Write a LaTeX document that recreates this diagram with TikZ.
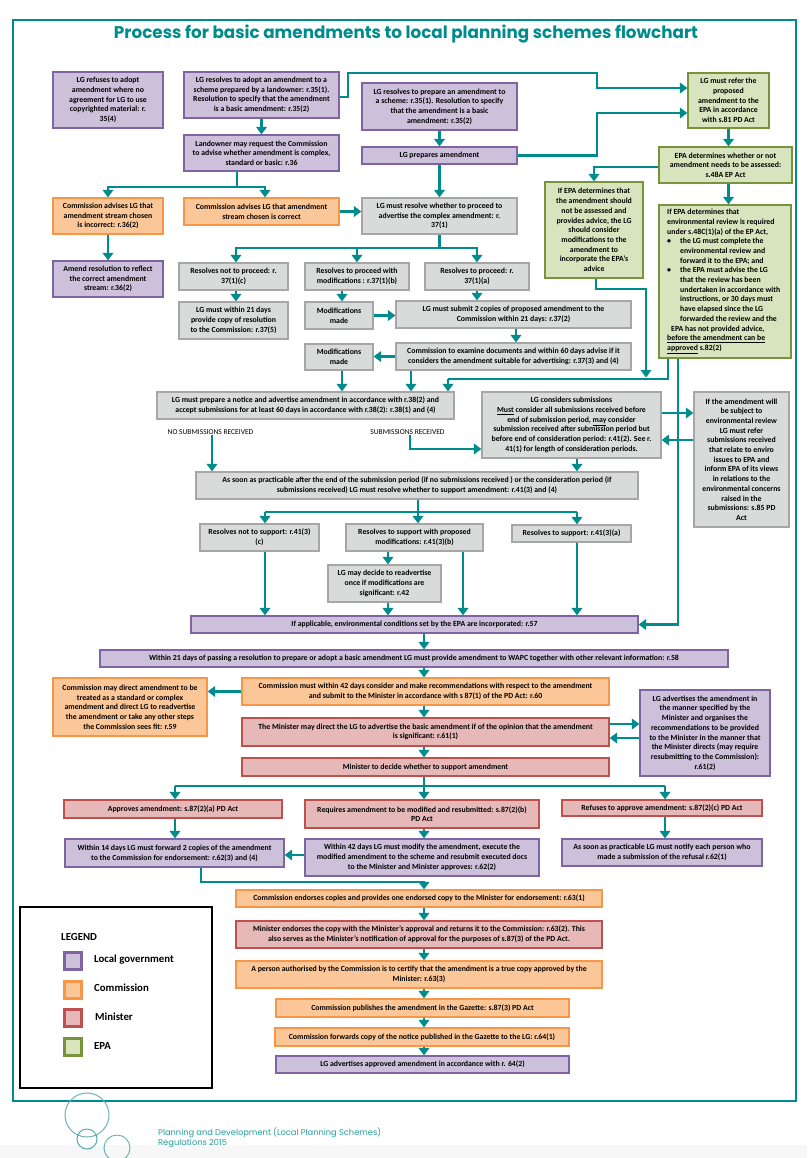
\documentclass[tikz,border=0pt]{standalone}
\usepackage{fontspec}
\setmainfont{Carlito}
\newfontfamily\titlefont{Poppins}
\usetikzlibrary{arrows.meta}
\definecolor{tl}{RGB}{0,140,140}
\definecolor{tlL}{RGB}{110,180,180}
\definecolor{lgF}{RGB}{204,192,218}\definecolor{lgD}{RGB}{128,100,162}
\definecolor{cmF}{RGB}{251,199,152}\definecolor{cmD}{RGB}{247,150,70}
\definecolor{mnF}{RGB}{230,185,184}\definecolor{mnD}{RGB}{192,80,77}
\definecolor{epF}{RGB}{215,228,189}\definecolor{epD}{RGB}{119,147,60}
\definecolor{gyF}{RGB}{217,218,218}\definecolor{gyD}{RGB}{166,166,166}
\newcommand\mybox[8][]{%
  \pgfmathsetmacro\bw{#6-#4}\pgfmathsetmacro\bh{#7-#5}%
  \pgfmathsetmacro\bcx{(#4+#6)/2}\pgfmathsetmacro\bcy{(#5+#7)/2}%
  \node[#3, minimum width=\bw pt, minimum height=\bh pt, #1] (#2) at (\bcx,\bcy) {#8};}
\begin{document}
\begin{tikzpicture}[x=1pt,y=-1pt,
  plaintxt/.style={inner sep=0pt, font=\fontsize{7.8}{9.7}\selectfont\bfseries, text=black},
  basebox/.style={draw, line width=1.2pt, inner sep=1pt, align=center, font=\fontsize{7.8}{9.7}\selectfont\bfseries, text=black},
  boxLG/.style={basebox, fill=lgF, draw=lgD},
  boxCM/.style={basebox, fill=cmF, draw=cmD},
  boxMN/.style={basebox, fill=mnF, draw=mnD},
  boxEP/.style={basebox, fill=epF, draw=epD},
  boxGY/.style={basebox, fill=gyF, draw=gyD},
  conn/.style={draw=tl, line width=2.8pt},
  arr/.style={draw=tl, line width=2.8pt, -{Triangle[width=10.5pt,length=7.5pt]}},
  swatch/.style={line width=2.6pt, minimum width=17pt, minimum height=17pt, inner sep=0pt},
  legtxt/.style={anchor=west, inner sep=0pt, font=\fontsize{10.8}{12}\selectfont\bfseries},
  sublabel/.style={inner sep=0pt, font=\fontsize{7.5}{8}\selectfont, text=black}
]
\useasboundingbox (0,0) rectangle (807,1158);
\fill[white] (0,0) rectangle (807,1158);
\fill[black!3] (0,1145) rectangle (807,1158);
\draw[tl, line width=1.2pt] (13,20) rectangle (796,1101);
\node[anchor=base, inner sep=0pt, text=tl] (title) at (406,39) {\resizebox{584pt}{13.6pt}{\titlefont\bfseries Process for basic amendments to local planning schemes flowchart}};

% ---------- top ----------
\mybox{refuse}{boxLG}{53}{72}{163}{128}{LG refuses to adopt\\amendment where no\\agreement for LG to use\\copyrighted material: r.\\35(4)}
\mybox{adopt}{boxLG}{184}{72}{339}{118}{LG resolves to adopt an amendment to a\\scheme prepared by a landowner: r.35(1).\\Resolution to specify that the amendment\\is a basic amendment: r.35(2)}
\mybox{prepare}{boxLG}{362}{83}{517}{130}{LG resolves to prepare an amendment to\\a scheme: r.35(1). Resolution to specify\\that the amendment is a basic\\amendment: r.35(2)}
\mybox{lgprep}{boxLG}{362}{147}{517}{164}{LG prepares amendment}
\mybox{refer}{boxEP}{688}{73}{769}{128}{LG must refer the\\proposed\\amendment to the\\EPA in accordance\\with s.81 PD Act}
\mybox{epadet}{boxEP}{659}{147}{792}{183}{EPA determines whether or not\\amendment needs to be assessed:\\s.48A EP Act}
\mybox{epanot}{boxEP}{545}{182}{643}{278}{If EPA determines that\\the amendment should\\not be assessed and\\provides advice, the LG\\should consider\\modifications to the\\amendment to\\incorporate the EPA’s\\advice}
\mybox{epareq}{boxEP}{659}{205}{791}{358}{}
\node[plaintxt, anchor=north west, align=left] (epareqT) at (667,209) {If EPA determines  that\\environmental review is required\\under s.48C(1)(a) of the EP Act,\\\makebox[13pt][l]{\textbullet}the LG must complete the\\\hspace*{13pt}environmental review and\\\hspace*{13pt}forward it to the EPA; and\\\makebox[13pt][l]{\textbullet}the EPA must advise the LG\\\hspace*{13pt}that the review has been\\\hspace*{13pt}undertaken in accordance with\\\hspace*{13pt}instructions, or 30 days must\\\hspace*{13pt}have elapsed since the LG\\\hspace*{13pt}forwarded the review and the\\\hspace*{4pt}EPA has not provided  advice,\\\underline{before the amendment can be}\\\underline{approved} s.82(2)};
\mybox{landowner}{boxLG}{184}{135}{339}{171}{Landowner may request the Commission\\to advise whether amendment is complex,\\standard or basic: r.36}
\mybox{incorrect}{boxCM}{53}{198}{163}{234}{Commission advises  LG that\\amendment stream chosen\\is incorrect: r.36(2)}
\mybox{correct}{boxCM}{184}{198}{339}{225}{Commission advises  LG that amendment\\stream chosen is correct}
\mybox{resolve}{boxGY}{362}{198}{517}{234}{LG must resolve whether to proceed  to\\advertise  the complex amendment: r.\\37(1)}
\mybox{amendres}{boxLG}{53}{261}{163}{297}{Amend resolution to reflect\\the correct amendment\\stream: r.36(2)}
\mybox{notproc}{boxGY}{179}{263}{288}{290}{Resolves not to  proceed: r.\\37(1)(c)}
\mybox{procmod}{boxGY}{305}{263}{409}{290}{Resolves  to proceed with\\modifications : r.37(1)(b)}
\mybox{proc}{boxGY}{425}{263}{529}{290}{Resolves to proceed: r.\\37(1)(a)}
\mybox{lgtw}{boxGY}{179}{302}{288}{339}{LG must within 21 days\\provide copy of resolution\\to the Commission: r.37(5)}
\mybox{modA}{boxGY}{305}{302}{373}{329}{Modifications\\made}
\mybox{submit}{boxGY}{396}{301}{631}{328}{LG must submit 2 copies of proposed amendment to the\\Commission within 21 days: r.37(2)}
\mybox{modB}{boxGY}{305}{344}{373}{370}{Modifications\\made}
\mybox{examine}{boxGY}{396}{343}{631}{370}{Commission to examine documents and within 60 days advise if it\\considers the amendment suitable for advertising: r.37(3) and (4)}
\mybox{notice}{boxGY}{157}{392}{454}{419}{LG must prepare a notice  and advertise amendment  in accordance with r.38(2) and\\accept submissions for at least 60 days in accordance with r.38(2): r.38(1) and (4)}
\mybox{consider}{boxGY}{482}{392}{661}{458}{LG considers submissions\\\underline{Must} consider all submissions received before\\end of submission period, \underline{may} consider\\submission received after submission period but\\before end of consideration period: r.41(2). See r.\\41(1) for length of consideration periods.}
\mybox{envrev}{boxGY}{694}{392}{789}{527}{If the amendment will\\be subject to\\environmental review\\LG must refer\\submissions received\\that relate to enviro\\issues to EPA and\\inform EPA of its views\\in relations to the\\environmental concerns\\raised in the\\submissions: s.85 PD\\Act}
\node[sublabel] (nosub) at (210.5,432) {NO SUBMISSIONS RECEIVED};
\node[sublabel] (yessub) at (407.5,432) {SUBMISSIONS RECEIVED};
\mybox{asap}{boxGY}{196}{472}{638}{499}{As soon as practicable after the end of the submission period  (if no submissions received ) or the consideration period (if\\submissions received)  LG must resolve whether to support amendment: r.41(3) and (4)}
\mybox{notsupp}{boxGY}{200}{524}{319}{551}{Resolves not to support: r.41(3)\\(c)}
\mybox{suppmod}{boxGY}{346}{524}{483}{551}{Resolves to support with proposed\\modifications: r.41(3)(b)}
\mybox{supp}{boxGY}{512}{525}{631}{542}{Resolves to support: r.41(3)(a)}
\mybox{readv}{boxGY}{328}{565}{441}{602}{LG may decide to readvertise\\once if  modifications are\\significant: r.42}
\mybox{envcond}{boxLG}{191}{616}{638}{633}{If applicable,  environmental conditions set by the EPA are incorporated: r.57}
\mybox{wapc}{boxLG}{100}{650}{728}{667}{Within 21 days of passing a resolution to prepare or adopt a basic amendment LG must provide amendment to WAPC together with other relevant information: r.58}
\mybox{commdir}{boxCM}{53}{678}{207}{736}{Commission may direct amendment to be\\treated as  a standard or complex\\amendment and direct LG to readvertise\\the amendment or take any other steps\\the Commission sees fit: r.59}
\mybox{commrec}{boxCM}{242}{678}{609}{705}{Commission must  within 42 days consider and make recommendations  with respect to the amendment\\and submit to the Minister in accordance with s 87(1) of the PD Act: r.60}
\mybox{mindir}{boxMN}{242}{718}{609}{746}{The Minister may direct the LG to advertise  the basic amendment  if of  the opinion that the amendment\\is significant: r.61(1)}
\mybox{lgadv}{boxLG}{640}{690}{770}{776}{LG advertises  the amendment in\\the  manner specified by the\\Minister  and organises the\\recommendations to be provided\\to the Minister in the manner that\\the Minister directs (may require\\resubmitting to the Commission):\\r.61(2)}
\mybox{mindec}{boxMN}{242}{758}{609}{776}{Minister to decide whether to support amendment}
\mybox{approve}{boxMN}{64}{800}{282}{818}{Approves amendment: s.87(2)(a) PD Act}
\mybox{modres}{boxMN}{305}{800}{539}{828}{Requires amendment to be modified and resubmitted: s.87(2)(b)\\PD Act}
\mybox{refapp}{boxMN}{562}{800}{762}{816}{Refuses to approve amendment: s.87(2)(c) PD Act}
\mybox{fwdtwo}{boxLG}{65}{839}{284}{867}{Within 14 days  LG must forward  2 copies of the amendment\\to the Commission for endorsement: r.62(3) and (4)}
\mybox{modify}{boxLG}{305}{839}{539}{876}{Within 42 days LG must modify the  amendment, execute the\\modified amendment to the scheme  and resubmit executed docs\\to the  Minister and Minister approves: r.62(2)}
\mybox{notify}{boxLG}{562}{839}{762}{866}{As soon as practicable LG must notify each person who\\made  a submission of the refusal r.62(1)}
\mybox{endorse}{boxCM}{236}{890}{602}{907}{Commission endorses copies and provides one endorsed copy to the Minister for endorsement: r.63(1)}
\mybox{minend}{boxMN}{236}{921}{602}{948}{Minister endorses the copy  with the Minister’s approval and returns it to the Commission: r.63(2). This\\also serves as the Minister’s notification of approval for the purposes of s.87(3) of the PD Act.}
\mybox{certify}{boxCM}{236}{961}{602}{988}{A person authorised by the Commission is to certify that the amendment is a true copy approved by the\\Minister: r.63(3)}
\mybox{gazette}{boxCM}{276}{999}{569}{1017}{Commission publishes the amendment in the Gazette: s.87(3) PD Act}
\mybox{fwdcopy}{boxCM}{275}{1028}{569}{1046}{Commission forwards copy of the notice published in the Gazette to the LG: r.64(1)}
\mybox{final}{boxLG}{276}{1056}{569}{1073}{LG advertises approved amendment in accordance with r. 64(2)}

% ---------- connectors ----------
\draw[arr] (adopt.south) -- (landowner.north);
\draw[arr] (adopt.east |- 0,97) -- (348,97) -- (348,73) -- (597,73) -- (597,88) -- (refer.west |- 0,88);
\draw[arr] (prepare.south) -- (lgprep.north);
\draw[arr] (lgprep.east) -- (597,155.5) -- (597,113) -- (refer.west |- 0,113);
\draw[arr] (lgprep.south) -- (resolve.north);
\draw[arr] (refer.south) -- (refer.south |- epadet.north);
\draw[arr] (epadet.west |- 0,167) -| (epanot.north);
\draw[arr] (refer.south |- epadet.south) -- (refer.south |- epareq.north);
\draw[conn] (landowner.south -| 237,0) -- (237,187);
\draw[arr] (237,187) -| (incorrect.north);
\draw[arr] (237,187) -| (correct.north -| 265,0);
\draw[arr] (correct.east) -- (resolve.west |- correct.east);
\draw[arr] (incorrect.south) -- (amendres.north);
\draw[conn] (resolve.south) -- (439.5,248);
\draw[arr] (439.5,248) -| (notproc.north -| 236,0);
\draw[arr] (439.5,248) -| (proc.north);
\draw[arr] (procmod.north |- 0,248) -- (procmod.north);
\draw[arr] (notproc.south -| 236,0) -- (lgtw.north -| 236,0);
\draw[arr] (procmod.south -| 342,0) -- (modA.north -| 342,0);
\draw[arr] (modA.east) -- (submit.west |- modA.east);
\draw[arr] (proc.south) -- (proc.south |- submit.north);
\draw[arr] (submit.south -| 516,0) -- (examine.north -| 516,0);
\draw[arr] (examine.west) -- (modB.east |- examine.west);
\draw[arr] (modB.south -| 342,0) -- (notice.north -| 342,0);
\draw[arr] (examine.south -| 411,0) -- (notice.north -| 411,0);
\coordinate (join) at (646,377.5);
\draw[conn] (epareq.south -| 668,0) -- (668,379) -- (448,379);
\draw[arr] (448,379) -- (notice.north -| 448,0);
\draw[arr] (epanot.south -| 596,0) -- (596,289) -- (646,289) -- (join);
\draw[arr] (epareq.south -| 678,0) -- (678,624.5) -- (envcond.east);
\draw[arr] (consider.east |- 0,413) -- (envrev.west |- 0,413);
\draw[arr] (envrev.west |- 0,440) -- (consider.east |- 0,440);
\draw[arr] (yessub.south -| 410,0) -- (410,449) -- (consider.west |- 0,449);
\draw[arr] (nosub.south -| 212,0) -- (asap.north -| 212,0);
\draw[arr] (consider.south -| 577,0) -- (asap.north -| 577,0);
\draw[arr] (asap.south -| 418,0) -- (suppmod.north -| 418,0);
\draw[conn] (265,512) -- (577,512);
\draw[arr] (265,512) -- (notsupp.north -| 265,0);
\draw[arr] (577,512) -- (supp.north -| 577,0);
\draw[arr] (notsupp.south -| 265,0) -- (envcond.north -| 265,0);
\draw[arr] (suppmod.south -| 388,0) -- (readv.north -| 388,0);
\draw[arr] (suppmod.south -| 463,0) -- (envcond.north -| 463,0);
\draw[arr] (readv.south -| 388,0) -- (envcond.north -| 388,0);
\draw[arr] (supp.south -| 577,0) -- (envcond.north -| 577,0);
\draw[arr] (envcond.south -| 424,0) -- (wapc.north -| 424,0);
\draw[arr] (wapc.south -| 424,0) -- (commrec.north -| 424,0);
\draw[arr] (commrec.west) -- (commdir.east |- commrec.west);
\draw[arr] (commrec.south -| 424,0) -- (mindir.north -| 424,0);
\draw[arr] (mindir.east |- 0,724) -- (lgadv.west |- 0,724);
\draw[arr] (lgadv.west |- 0,738) -- (mindir.east |- 0,738);
\draw[arr] (mindir.south -| 424,0) -- (mindec.north -| 424,0);
\draw[conn] (mindec.south -| 424,0) -- (424,786);
\draw[conn] (175,786) -- (665,786);
\draw[arr] (175,786) -- (approve.north -| 175,0);
\draw[arr] (424,786) -- (modres.north -| 424,0);
\draw[arr] (665,786) -- (refapp.north -| 665,0);
\draw[arr] (approve.south -| 175,0) -- (fwdtwo.north -| 175,0);
\draw[arr] (modres.south -| 424,0) -- (modify.north -| 424,0);
\draw[arr] (refapp.south -| 665,0) -- (notify.north -| 665,0);
\draw[arr] (modify.west |- 0,855) -- (fwdtwo.east |- 0,855);
\draw[arr] (fwdtwo.south -| 201,0) -- (201,882) -- (424,882) -- (endorse.north -| 424,0);
\draw[arr] (endorse.south -| 424,0) -- (minend.north -| 424,0);
\draw[arr] (minend.south -| 424,0) -- (certify.north -| 424,0);
\draw[arr] (certify.south -| 424,0) -- (gazette.north -| 424,0);
\draw[arr] (gazette.south -| 424,0) -- (fwdcopy.north -| 424,0);
\draw[arr] (fwdcopy.south -| 424,0) -- (final.north -| 424,0);

% ---------- legend ----------
\draw[black, line width=1.1pt] (20,907) rectangle (212,1088);
\node[legtxt] (legT) at (61,937) {LEGEND};
\node[swatch, draw=lgD, fill=lgF] (s1) at (73,961) {};
\node[swatch, draw=cmD, fill=cmF] (s2) at (73,990) {};
\node[swatch, draw=mnD, fill=mnF] (s3) at (73,1018) {};
\node[swatch, draw=epD, fill=epF] (s4) at (73,1047) {};
\node[legtxt] (l1) at (94,960) {Local government};
\node[legtxt] (l2) at (94,988) {Commission};
\node[legtxt] (l3) at (95,1017) {Minister};
\node[legtxt] (l4) at (94,1046) {EPA};

% ---------- footer ----------
\draw[tlL, line width=1pt] (87,1115) circle[radius=22pt];
\draw[tl!70, line width=1pt] (87,1139) circle[radius=10pt];
\draw[tlL, line width=1pt] (117,1148) circle[radius=13pt];
\node[anchor=north west, inner sep=0pt, align=left, text=tl!85, font=\titlefont\fontsize{8.3}{10}\selectfont] (foot) at (158,1128) {Planning and Development (Local Planning Schemes)\\Regulations 2015};
\end{tikzpicture}
\end{document}
